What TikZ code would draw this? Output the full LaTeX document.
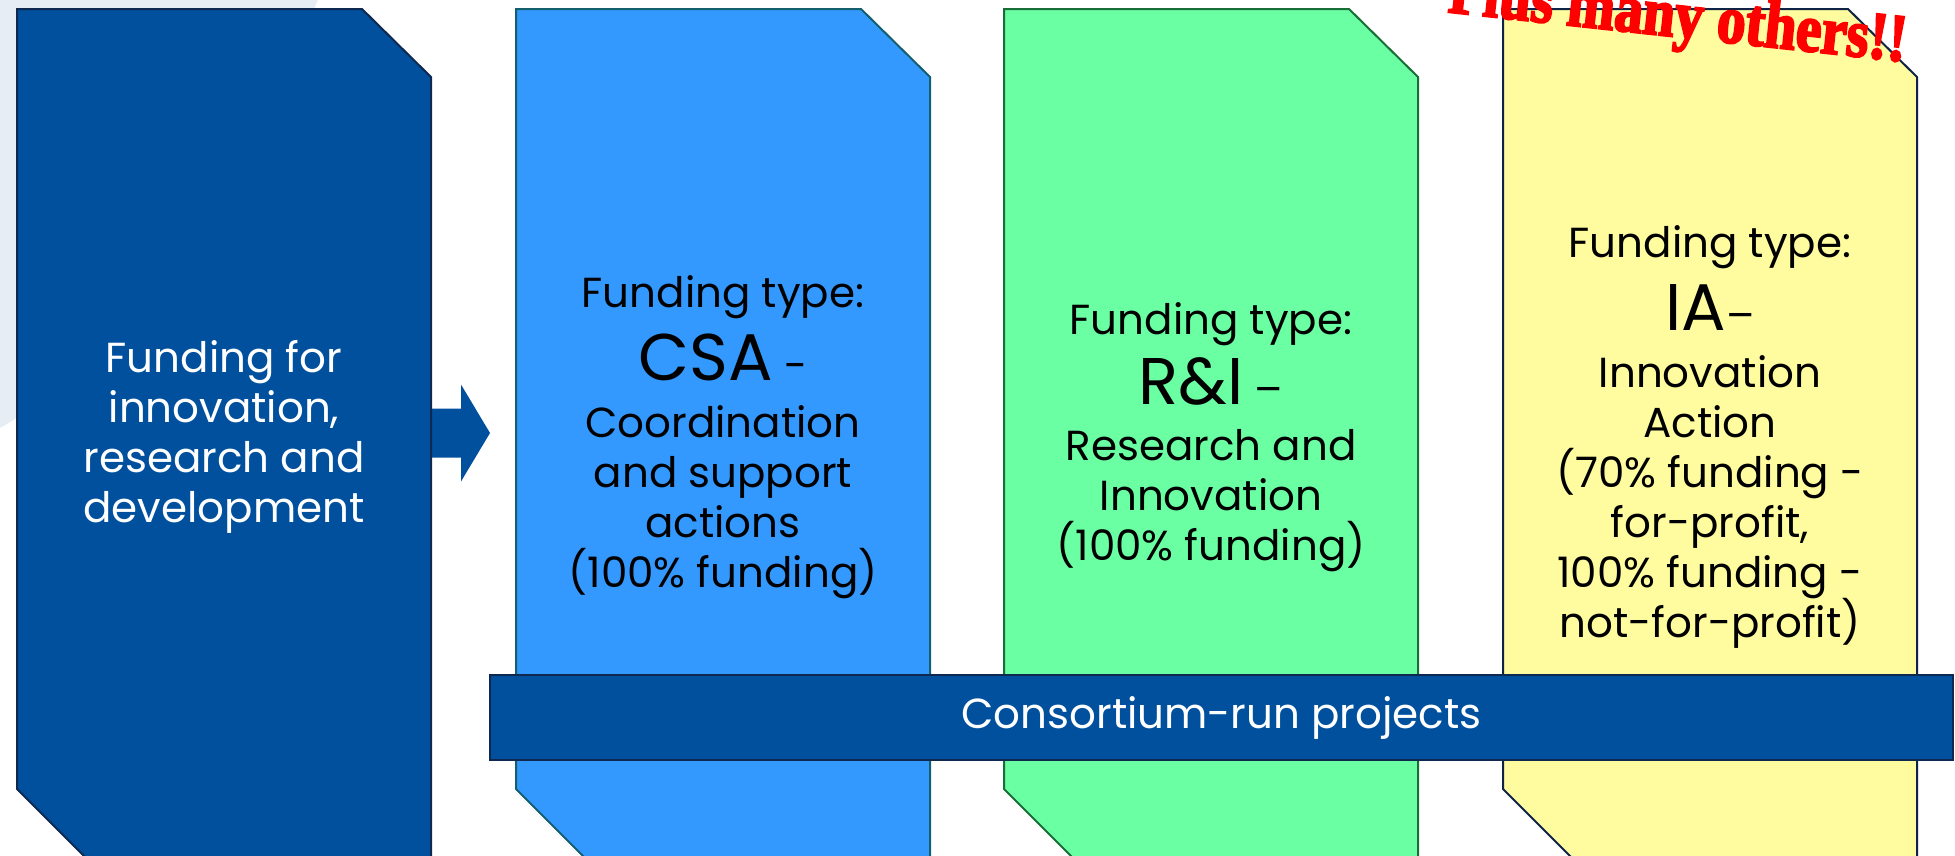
\documentclass[tikz,border=0pt]{standalone}
\usepackage{fontspec}
\setmainfont{Poppins}
\newfontfamily\plusfont{Liberation Serif}[FakeStretch=0.84,FakeBold=3]
\definecolor{rdblue}{RGB}{0,80,158}
\definecolor{rdedge}{RGB}{14,40,80}
\definecolor{csablue}{RGB}{51,153,255}
\definecolor{csaedge}{RGB}{20,95,110}
\definecolor{rigreen}{RGB}{106,255,163}
\definecolor{riedge}{RGB}{25,110,55}
\definecolor{iayellow}{RGB}{255,252,160}
\definecolor{iaedge}{RGB}{15,35,70}
\definecolor{backdrop}{RGB}{231,237,245}
\newcommand{\boxfont}{\fontsize{42}{50}\selectfont\lineskiplimit=-100pt\relax}
\newcommand{\bigpart}[1]{{\fontsize{66}{50}\selectfont #1}}
\tikzset{
BOX/.style ={line join=miter, miter limit=4.00, line width=2pt},
BOXTEXT/.style={align=center, inner sep=0pt, font=\boxfont},
BAR/.style={draw=rdedge, fill=rdblue, line width=2pt, text=white, minimum width=1463pt, minimum height=85pt, inner sep=0pt, font=\fontsize{42}{50}\selectfont},
PLUS/.style={text=red, inner sep=0pt, font=\plusfont\bfseries\fontsize{68}{68}\selectfont},
}
\begin{document}
\begin{tikzpicture}
[x=1pt, y=-1pt]
	\useasboundingbox (0,0) rectangle (1955,855);
	\clip (0,0) rectangle (1955,855);
	\fill[backdrop] (0,0) -- (318,0) .. controls (230,190) and (120,360) .. (0,428) -- cycle;
	\coordinate (rdout) at (431,433);
	\fill[rdblue] (rdout) ++(0,-24.5) -- ++(30,0) -- ++(0,-24) -- ++(29,48.5) -- ++(-29,48.5) -- ++(0,-24) -- ++(-30,0) -- cycle;
	\foreach \x/\c/\d in {17/rdblue/rdedge, 516/csablue/csaedge, 1004/rigreen/riedge, 1503/iayellow/iaedge} {
	\path[BOX, fill=\c, draw=\d] (\x,9) -- (\x+345,9) -- (\x+414,77) -- (\x+414,857)
	-- (\x+68,857) -- (\x,789) -- cycle;}
	\node[BOXTEXT, text=white] (rd) at (224,437)
	{Funding for\\ innovation,\\ research and\\ development};
	\node[BOXTEXT] (csa) at (723,437) {Funding type:\\[23pt] \bigpart{CSA} -\\[7pt] Coordination\\ and support\\ actions\\ (100\% funding)};
	\node[BOXTEXT] (ri) at (1211,437) {Funding type:\\[20pt] \bigpart{R\&I} –\\[6pt] Research and\\ Innovation\\ (100\% funding)};
	\node[BOXTEXT] (ia) at (1710,437) {Funding type:\\[23pt] \bigpart{IA}–\\[7pt] Innovation\\ Action\\ (70\% funding -\\ for-profit,\\ 100\% funding -\\ not-for-profit)};
	\node[BAR] (consort) at (1221.5,717.5) {Consortium-run projects};
	\node[PLUS, anchor=base west, rotate=-6.2] (others) at (1447,12) {Plus many others!!};
\end{tikzpicture}
\end{document}
